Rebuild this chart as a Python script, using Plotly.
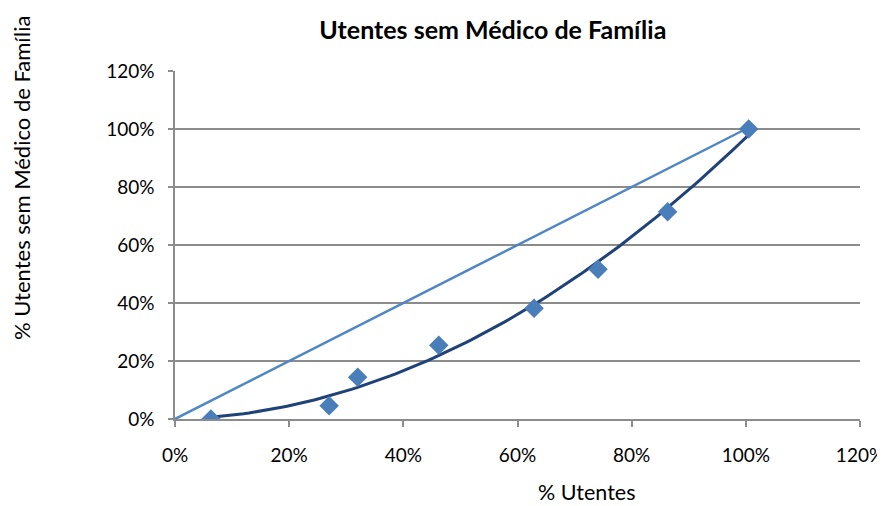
import numpy as np
import plotly.graph_objects as go

# Data (fractions)
pct_utentes = [0.063, 0.270, 0.320, 0.462, 0.629, 0.741, 0.863, 1.005]
pct_sem_medico = [0.000, 0.046, 0.144, 0.254, 0.382, 0.516, 0.715, 1.000]
equality_x = [0.0, 1.0]
equality_y = [0.0, 1.0]
tick_vals = [0, 0.2, 0.4, 0.6, 0.8, 1.0, 1.2]
tick_text = ["0%", "20%", "40%", "60%", "80%", "100%", "120%"]

# Polynomial (order 2) trendline fitted to the data, as in the original
coef = np.polyfit(pct_utentes, pct_sem_medico, 2)
tx = np.linspace(min(pct_utentes), max(pct_utentes), 100)
ty = np.polyval(coef, tx)

FONT = "Lato, Open Sans, sans-serif"

# page body has an 8px margin; figure is sized to fill the rest of the window
W, H = 877, 498

fig = go.Figure()
fig.add_trace(go.Scatter(x=equality_x, y=equality_y, mode="lines",
                         line=dict(color="#4F86C6", width=2.5),
                         showlegend=False, hoverinfo="skip"))
fig.add_trace(go.Scatter(x=tx, y=ty, mode="lines",
                         line=dict(color="#1F4278", width=3),
                         showlegend=False, hoverinfo="skip"))
fig.add_trace(go.Scatter(x=pct_utentes, y=pct_sem_medico, mode="markers",
                         marker=dict(symbol="diamond", size=15, color="#4A7EBB"),
                         showlegend=False))

fig.update_layout(
    width=W, height=H,
    margin=dict(l=167, r=25, t=63, b=87),
    paper_bgcolor="white", plot_bgcolor="white",
    font=dict(family=FONT, size=19, color="#000000"),
    title=dict(text="<b>Utentes sem Médico de Família</b>",
               x=0.464, xref="paper", xanchor="center",
               y=1 - 22 / H, yref="container", yanchor="middle",
               font=dict(size=25, family=FONT)),
    xaxis=dict(range=[0, 1.2], tickvals=tick_vals, ticktext=tick_text,
               showgrid=False, zeroline=False, showline=True, linecolor="#8C8C8C",
               linewidth=1.5, ticks="outside", ticklen=6, tickcolor="#8C8C8C",
               tickwidth=1.5, ticklabelstandoff=12, automargin=False),
    yaxis=dict(range=[0, 1.2], tickvals=tick_vals, ticktext=tick_text,
               showgrid=True, gridcolor="#8C8C8C", gridwidth=1.5, zeroline=False,
               showline=True, linecolor="#8C8C8C", linewidth=1.5, ticks="outside",
               ticklen=5, tickcolor="#8C8C8C", tickwidth=1.5, ticklabelstandoff=10,
               automargin=False),
    annotations=[
        dict(text="% Utentes", xref="paper", yref="paper", x=0.601, y=-0.21,
             xanchor="center", yanchor="middle", showarrow=False, font=dict(size=21.5)),
        dict(text="% Utentes sem Médico de Família", xref="paper", yref="paper",
             x=-0.223, y=0.693, xanchor="center", yanchor="middle", textangle=-90,
             showarrow=False, font=dict(size=22)),
    ],
)

fig.write_html("out.html")
